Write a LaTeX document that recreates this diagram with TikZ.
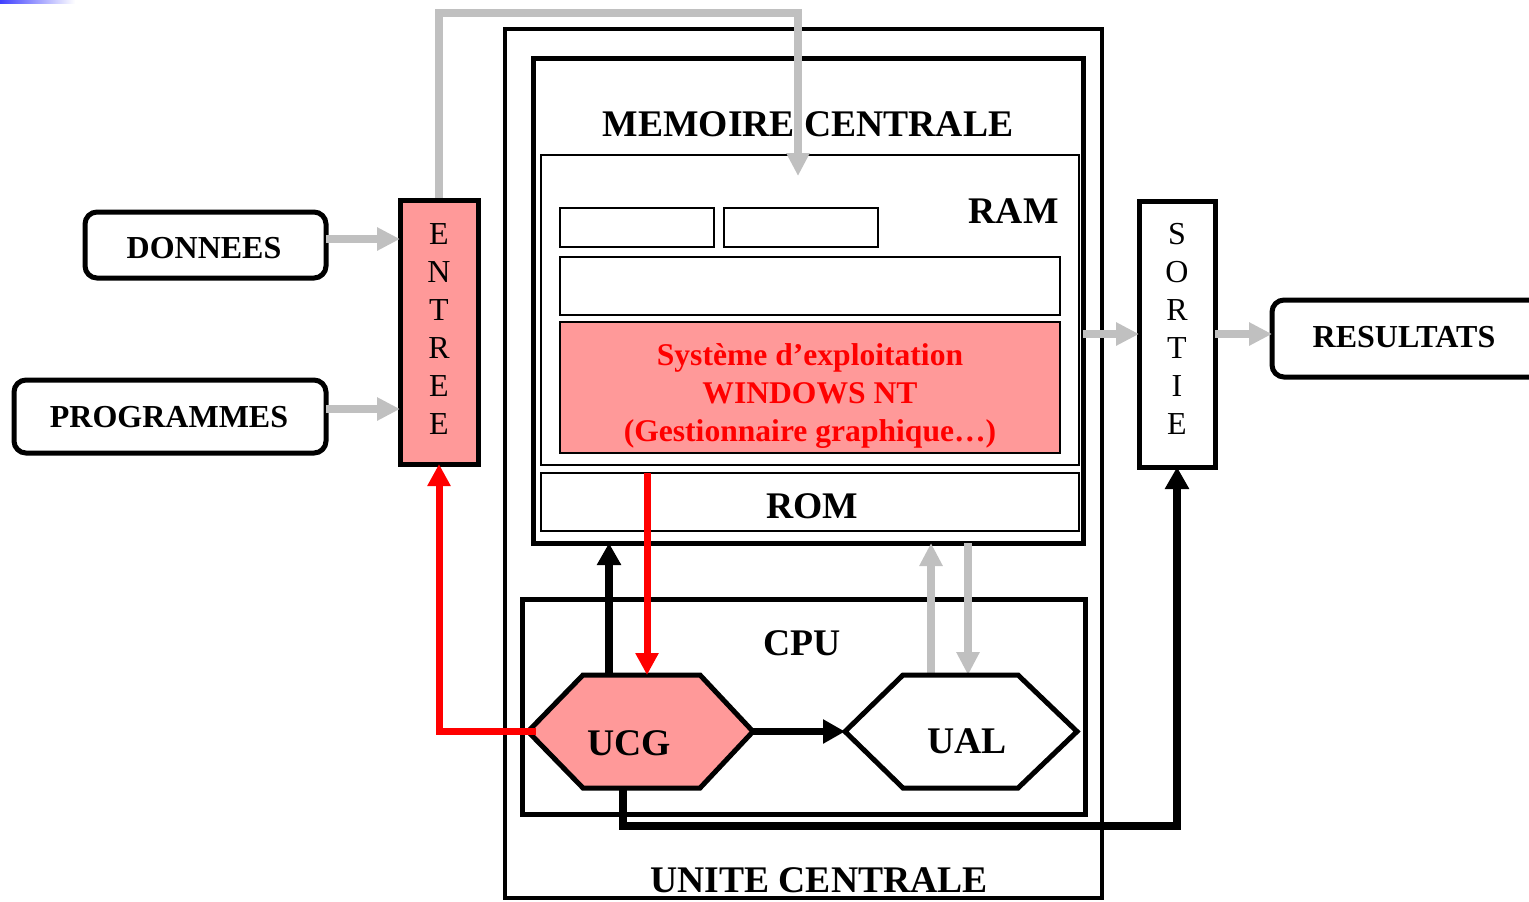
\documentclass[tikz,border=0pt]{standalone}
\usepackage{fontspec}
\setmainfont{Liberation Serif}
\usetikzlibrary{arrows.meta,calc}
\definecolor{pinkfill}{HTML}{FF9999}
\definecolor{grayarr}{HTML}{C0C0C0}
\definecolor{redarr}{HTML}{FF0000}
\tikzset{
  box/.style={draw=black, line width=2.5pt, inner sep=0pt, outer sep=0pt, fill=white},
  thinbox/.style={draw=black, line width=1pt, inner sep=0pt, outer sep=0pt, fill=white},
  rbox/.style={box, rounded corners=6pt},
  anchorbox/.style={inner sep=0pt, outer sep=0pt},
  biglbl/.style={font=\bfseries\fontsize{18.8pt}{22pt}\selectfont, anchor=base, inner sep=0pt},
  midlbl/.style={font=\bfseries\fontsize{16pt}{19pt}\selectfont, anchor=base, inner sep=0pt},
  letters/.style={font=\fontsize{16pt}{19pt}\selectfont, align=center, inner sep=0pt},
  grayarrow/.style={draw=grayarr, line width=4pt, -{Triangle[length=11.5pt,width=11pt]}},
  blackarrow/.style={draw=black, line width=3.75pt, -{Triangle[length=11pt,width=11.5pt]}},
  redarrow/.style={draw=redarr, line width=3.5pt, -{Triangle[length=11pt,width=11pt]}},
  hexline/.style={draw=black, line width=2.5pt},
}
\begin{document}
\begin{tikzpicture}[x=0.5pt,y=-0.5pt]
\useasboundingbox (0,0) rectangle (1529,901);
\fill[white] (0,0) rectangle (1529,901);
\shade[left color=blue!75!white, right color=white] (0,0) rectangle (75,3);

% unite centrale
\node[box, line width=2pt, minimum width=298.5pt, minimum height=434.5pt] (uc) at (803.5,463.5) {};
\node[biglbl] at (819,892) {UNITE CENTRALE};

% memoire centrale
\node[box, minimum width=275pt, minimum height=242.5pt] (mem) at (808,300.5) {};
\node[thinbox, minimum width=269pt, minimum height=155pt] (ram) at (810,310) {};
\node[thinbox, minimum width=77pt, minimum height=19.5pt] (r1) at (637,227.5) {};
\node[thinbox, minimum width=77pt, minimum height=19.5pt] (r2) at (801,227.5) {};
\node[thinbox, minimum width=250pt, minimum height=29pt] (r3) at (810,286) {};
\node[thinbox, fill=pinkfill, minimum width=250pt, minimum height=65.5pt] (os) at (810,387.5) {};
\node[thinbox, minimum width=269pt, minimum height=29pt] (rom) at (810,502) {};
\node[biglbl] at (808,136) {MEMOIRE CENTRALE};
\node[biglbl, anchor=base east] at (1059,223) {RAM};
\node[biglbl] at (812,518) {ROM};
\node[font=\bfseries\fontsize{15.8pt}{19pt}\selectfont, text=redarr, align=center, inner sep=0pt] (ostext) at (810,396) {Système d’exploitation\\WINDOWS NT\\(Gestionnaire graphique…)};

% cpu
\node[box, minimum width=281.5pt, minimum height=107.5pt] (cpu) at (803.5,706.5) {};
\node[biglbl] at (802,655) {CPU};
\node[anchorbox, minimum width=112.5pt, minimum height=56.5pt] (ucg) at (640.5,731.5) {};
\node[anchorbox, minimum width=116pt, minimum height=56.5pt] (ual) at (961,731.5) {};

% entree / sortie
\node[box, fill=pinkfill, minimum width=39pt, minimum height=132pt] (entree) at (439,332) {};
\node[letters] at (439,329) {E\\N\\T\\R\\E\\E};
\node[box, minimum width=38pt, minimum height=133pt] (sortie) at (1177,334) {};
\node[letters] at (1177,329) {S\\O\\R\\T\\I\\E};

% rounded boxes
\node[rbox, minimum width=120.5pt, minimum height=33pt] (donnees) at (205.5,245) {};
\node[midlbl] at (204,258) {DONNEES};
\node[rbox, minimum width=156pt, minimum height=36.5pt] (programmes) at (170,416.5) {};
\node[midlbl] at (169,427) {PROGRAMMES};
\node[rbox, minimum width=154pt, minimum height=38.5pt] (resultats) at (1426,338.5) {};
\node[midlbl] at (1404,347) {RESULTATS};

% gray connectors
\coordinate (ramin) at (798,176);
\draw[grayarrow] ([yshift=1.25pt]entree.north) |- ($(ramin)+(0,-163)$) -- (ramin);
\draw[grayarrow] ([yshift=3pt]donnees.east) -- ([yshift=3pt]donnees.east -| entree.west);
\draw[grayarrow] ([yshift=3.75pt]programmes.east) -- ([yshift=3.75pt]programmes.east -| entree.west);
\draw[grayarrow] (mem.east |- sortie.west) -- (sortie.west);
\draw[grayarrow] (sortie.east) -- (sortie.east -| resultats.west);
\draw[grayarrow] (ual.north -| 931,0) -- (mem.south -| 931,0);
\draw[grayarrow] (mem.south -| 968,0) -- (ual.north -| 968,0);

% hexagons
\draw[hexline, fill=pinkfill] (ucg.west) -- ($(ucg.north west)+(55,0)$) -- ($(ucg.north east)+(-53,0)$) -- (ucg.east) -- ($(ucg.south east)+(-53,0)$) -- ($(ucg.south west)+(55,0)$) -- cycle;
\draw[hexline, fill=white] (ual.west) -- ($(ual.north west)+(58,0)$) -- ($(ual.north east)+(-59,0)$) -- (ual.east) -- ($(ual.south east)+(-59,0)$) -- ($(ual.south west)+(58,0)$) -- cycle;
\node[biglbl] at (629,755) {UCG};
\node[biglbl] at (967,753) {UAL};

% black connectors
\coordinate (low) at (623,826);
\draw[blackarrow] (ucg.north -| 609,0) -- (mem.south -| 609,0);
\draw[blackarrow] (ucg.east) -- (ual.west);
\draw[blackarrow, line width=4pt] (ucg.south -| low) -- (low) -| (sortie.south);

% red connectors
\draw[redarrow] (rom.north -| 647,0) -- (ucg.north -| 647,0);
\draw[redarrow] ([xshift=4pt]ucg.west) -| (entree.south);
\end{tikzpicture}
\end{document}
